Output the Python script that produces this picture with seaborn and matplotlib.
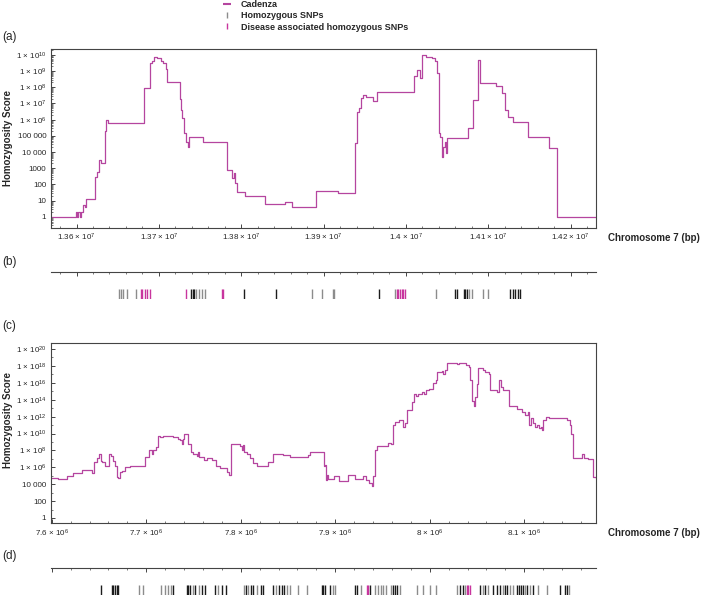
import numpy as np
import pandas as pd
import matplotlib
matplotlib.use('Agg')
import matplotlib.pyplot as plt
from matplotlib.lines import Line2D
from matplotlib.ticker import FixedLocator, FuncFormatter, MultipleLocator, NullFormatter
import seaborn as sns

# ---- panel (a): Cadenza homozygosity score, chr7 ~13.6-14.2 Mb (log10 score, step starts)
a_pos = [13568400, 13599200, 13600000, 13601600, 13604000, 13606000, 13607300, 13610100,
         13611300, 13622200, 13625100, 13627500, 13630300, 13634800, 13636400, 13638400,
         13681700, 13689000, 13691100, 13693900, 13697900, 13702000, 13705200, 13708500,
         13710100, 13725500, 13726700, 13728300, 13730300, 13732800, 13734800, 13736800,
         13753000, 13782200, 13789400, 13791100, 13792700, 13794300, 13795100, 13804400,
         13828700, 13853000, 13861100, 13890700, 13917800, 13938000, 13940900, 13943300,
         13945300, 13948100, 13951400, 13960300, 13964300, 14009700, 14013700, 14017000,
         14019400, 14023900, 14031600, 14034800, 14038000, 14039700, 14041300, 14043300,
         14044500, 14047000, 14048600, 14049400, 14075700, 14081700, 14087000, 14089800,
         14108900, 14116200, 14120200, 14123500, 14129500, 14148600, 14173700, 14183000,
         14185400, 14230800]
a_log = [0, 0.31, 0, 0.31, 0, 0.31, 0.72, 0.62,
         1.07, 2.47, 2.78, 3.5, 3.3, 5.3, 5.95, 5.77,
         7.94, 9.48, 9.6, 9.9, 9.8, 9.6, 9.48, 9.11,
         8.3, 7.3, 6.6, 6.1, 5.2, 4.6, 4.29, 4.9,
         4.64, 2.9, 2.4, 2.7, 2.06, 1.92, 1.55, 1.3,
         0.76, 0.89, 0.62, 1.6, 1.48, 4.54, 6.5, 6.7,
         7.32, 7.53, 7.43, 7.15, 7.73, 8.7, 9.07, 8.56,
         10.0, 9.9, 9.8, 9.6, 8.87, 5.15, 4.95, 3.7,
         4.33, 4.64, 3.92, 4.85, 5.46, 7.2, 9.7, 8.25,
         8.1, 7.63, 6.6, 6.19, 5.84, 4.95, 4.23, 0,
         0, 0]
a_pos, a_log = a_pos[:len(a_log)], a_log[:len(a_pos)]

# ---- panel (c): chr7 ~7.6-8.18 Mb
c_pos = [7598700, 7607000, 7615800, 7622900, 7631700, 7642300, 7644800, 7647600, 7650400,
         7651800, 7653200, 7656400, 7660300, 7663100, 7665200, 7667300, 7668700, 7670500,
         7672300, 7674000, 7677600, 7682800, 7698700, 7703300, 7705800, 7707500, 7710400,
         7712500, 7714600, 7717400, 7721600, 7728700, 7734000, 7735700, 7737500, 7738600,
         7740000, 7744600, 7747000, 7749800, 7753400, 7755100, 7756200, 7758700, 7761100,
         7764000, 7769200, 7773800, 7778100, 7782300, 7785100, 7787200, 7789700, 7799200,
         7801000, 7802700, 7803800, 7806300, 7809800, 7813300, 7816900, 7829200, 7834500,
         7845100, 7852100, 7862700, 7871500, 7873300, 7888100, 7889100, 7890200, 7891300,
         7892700, 7899000, 7904300, 7913800, 7920900, 7929000, 7932500, 7936100, 7939200,
         7940300, 7942400, 7944500, 7955500, 7958600, 7960700, 7963200, 7967800, 7971300,
         7973400, 7975600, 7981500, 7983300, 7985400, 7987900, 7991400, 7993900, 7996000,
         7999500, 8003100, 8006600, 8008000, 8012600, 8014300, 8016500, 8017900, 8029100,
         8031300, 8038300, 8041100, 8042600, 8044700, 8046500, 8048200, 8049600, 8051400,
         8056000, 8058800, 8062400, 8063700, 8071500, 8073600, 8075000, 8077100, 8083500,
         8092000, 8097200, 8100800, 8103600, 8105000, 8106800, 8108900, 8111700, 8113800,
         8115600, 8117700, 8118700, 8119800, 8123000, 8126500, 8144800, 8148400, 8149800,
         8151200, 8161100, 8163200, 8167700, 8173000, 8175900]
c_log = [4.78, 4.67, 5.0, 5.33, 5.65, 5.33, 6.67, 7.06, 7.57,
         6.78, 6.67, 6.16, 7.6, 7.3, 6.7, 6.1, 4.9, 4.78,
         5.45, 5.6, 6.0, 6.16, 7.2, 8.1, 7.57, 8.04, 8.43,
         9.7, 9.6, 9.76, 9.68, 9.6, 9.4, 9.2, 8.8, 9.4,
         10.0, 8.8, 7.8, 7.57, 7.33, 7.8, 7.25, 7.18, 6.86,
         7.06, 6.86, 6.1, 5.96, 5.9, 5.5, 5.1, 8.75, 8.5,
         8.04, 8.6, 7.84, 7.57, 7.06, 6.55, 6.16, 6.67, 7.57,
         7.45, 7.25, 7.18, 7.45, 7.8, 6.1, 6.3, 4.5, 5.1,
         4.6, 5.0, 4.43, 5.06, 4.63, 5.0, 4.55, 4.1, 3.84,
         4.94, 8.04, 8.5, 8.9, 8.8, 11.0, 11.4, 11.57, 10.8,
         11.3, 12.75, 13.7, 14.7, 14.4, 14.7, 14.9, 14.7, 15.1,
         15.3, 16.0, 16.3, 17.25, 17.45, 17.1, 17.5, 18.35, 18.2,
         18.35, 18.1, 17.9, 16.3, 13.9, 13.3, 14.3, 15.9, 17.8,
         17.5, 17.3, 17.1, 15.1, 14.95, 16.35, 15.5, 15.1, 13.3,
         12.95, 12.55, 12.15, 12.5, 11.0, 11.8, 11.2, 10.8, 11.0,
         10.6, 10.8, 10.4, 11.6, 12.0, 11.85, 11.57, 11.0, 10.0,
         7.06, 7.57, 7.06, 6.94, 4.9, 4.7]
c_pos, c_log = c_pos[:len(c_log)], c_log[:len(c_pos)]

# ---- SNP positions (b) and (d); kind: g = homozygous (grey), k = homozygous (dark), m = disease associated
b_snp = [13651000, 13653800, 13656600, 13661500, 13672800, 13677700, 13679300, 13683000,
         13685800, 13689000, 13732400, 13739600, 13741300, 13742900, 13744500, 13749000,
         13752200, 13755800, 13776900, 13778100, 13803200, 13842100, 13885400, 13897500,
         13910900, 13912900, 13967600, 13986600, 13988600, 13990600, 13992700, 13994700,
         13996700, 13999200, 14036400, 14059500, 14061500, 14070400, 14072000, 14074100,
         14076900, 14080100, 14093900, 14100000, 14126300, 14129600, 14132800, 14136000,
         14138400]
b_kind = ['g', 'g', 'g', 'g', 'g', 'm', 'm', 'm',
          'm', 'm', 'm', 'k', 'k', 'k', 'g', 'g',
          'g', 'g', 'm', 'm', 'k', 'k', 'g', 'g',
          'g', 'g', 'k', 'g', 'm', 'm', 'm', 'm',
          'm', 'm', 'g', 'k', 'k', 'k', 'k', 'k',
          'g', 'g', 'g', 'g', 'k', 'k', 'k', 'k',
          'k']

d_snp = [7651800, 7663500, 7665200, 7667000, 7668700, 7670500, 7692700, 7696200,
         7715300, 7719900, 7723400, 7725900, 7728000, 7742800, 7744600, 7746300,
         7749100, 7751600, 7755500, 7758700, 7762500, 7772800, 7775600, 7779800,
         7784400, 7803500, 7805600, 7808000, 7810500, 7813300, 7816900, 7821100,
         7823900, 7834500, 7837300, 7840800, 7843300, 7845800, 7848600, 7852100,
         7860900, 7869800, 7885600, 7887400, 7889200, 7894500, 7898000, 7900100,
         7920900, 7923400, 7926900, 7933200, 7935000, 7936800, 7942000, 7944900,
         7948100, 7950900, 7953700, 7958600, 7960700, 7963200, 7965700, 7968500,
         7986100, 7993200, 8000200, 8006600, 8029200, 8032000, 8034800, 8037300,
         8039000, 8040800, 8042600, 8053200, 8056700, 8058800, 8062000, 8067300,
         8070800, 8074300, 8077100, 8079600, 8082100, 8084900, 8087700, 8092000,
         8094100, 8096200, 8098300, 8100800, 8103200, 8106000, 8109600, 8114900,
         8123700, 8137800, 8143100, 8144800, 8147600]
d_kind = ['k', 'k', 'k', 'k', 'k', 'k', 'g', 'g',
          'g', 'g', 'g', 'g', 'k', 'k', 'k', 'k',
          'g', 'k', 'g', 'k', 'k', 'k', 'g', 'k',
          'k', 'g', 'k', 'g', 'k', 'k', 'g', 'k',
          'k', 'k', 'g', 'k', 'k', 'k', 'g', 'g',
          'g', 'g', 'k', 'k', 'k', 'k', 'g', 'g',
          'k', 'k', 'g', 'm', 'm', 'k', 'g', 'g',
          'g', 'g', 'g', 'g', 'k', 'k', 'k', 'g',
          'g', 'g', 'g', 'g', 'g', 'k', 'k', 'g',
          'm', 'm', 'm', 'k', 'g', 'k', 'g', 'k',
          'k', 'k', 'g', 'k', 'k', 'g', 'g', 'k',
          'k', 'k', 'k', 'g', 'k', 'g', 'k', 'g',
          'g', 'k', 'k', 'k', 'g']

a_xticks = [13600000, 13700000, 13800000, 13900000, 14000000, 14100000, 14200000]
c_xticks = [7600000, 7700000, 7800000, 7900000, 8000000, 8100000]
a_xlim = (13568400, 14230800)
c_xlim = (7598700, 8175900)

CURVE = '#b5459f'
SNP_COLORS = {'g': '#8c8c8c', 'k': '#1c1c1c', 'm': '#c8359e'}
FRAME = '#444444'

sns.set_style('white')
plt.rcParams['font.family'] = ['Liberation Sans', 'DejaVu Sans']
plt.rcParams['mathtext.fontset'] = 'custom'
plt.rcParams['mathtext.rm'] = 'Liberation Sans'
plt.rcParams['mathtext.it'] = 'Liberation Sans:italic'
plt.rcParams['mathtext.bf'] = 'Liberation Sans:bold'

W, H = 709, 595
fig = plt.figure(figsize=(W / 100, H / 100), dpi=100)


def box(l, t, r, b):
    return [l / W, 1 - b / H, (r - l) / W, (b - t) / H]


def y_label_fmt(v, pos):
    e = int(round(np.log10(v)))
    if e < 4:
        return str(10 ** e)
    if e < 6:
        return f"{10 ** e:,}".replace(',', ' ')
    return "1 × 10$^{%d}$" % e


def x_label_fmt(v, pos):
    e = int(np.floor(np.log10(v)))
    m = v / 10 ** e
    return "%s × 10$^{%d}$" % (f"{m:g}", e)


def score_panel(ax, pos, logs, xlim, xticks, ylim, ymajor, yminor, ylab_y):
    ax.set_yscale('log')
    df = pd.DataFrame({'pos': pos, 'score': 10 ** np.array(logs)})
    sns.lineplot(data=df, x='pos', y='score', ax=ax, color=CURVE, lw=0.9,
                 drawstyle='steps-post', estimator=None, sort=False)
    ax.set_xlim(*xlim)
    ax.set_ylim(*ylim)
    ax.xaxis.set_major_locator(FixedLocator(xticks))
    ax.xaxis.set_minor_locator(MultipleLocator(20000))
    ax.xaxis.set_major_formatter(FuncFormatter(x_label_fmt))
    ax.yaxis.set_major_locator(FixedLocator(ymajor))
    ax.yaxis.set_minor_locator(FixedLocator(yminor))
    ax.yaxis.set_major_formatter(FuncFormatter(y_label_fmt))
    ax.yaxis.set_minor_formatter(NullFormatter())
    ax.tick_params(which='major', direction='in', length=3, width=0.7, color=FRAME,
                   labelsize=5.8, pad=3, bottom=True, left=True)
    ax.tick_params(which='minor', direction='in', length=1.6, width=0.5, color=FRAME,
                   bottom=True, left=True)
    for s in ax.spines.values():
        s.set_color(FRAME)
        s.set_linewidth(0.8)
    ax.set_xlabel('')
    ax.set_ylabel('Homozygosity Score', fontsize=7, fontweight='bold')
    ax.yaxis.set_label_coords(-0.068, ylab_y)


def snp_panel(ax, pos, kind, xlim, xticks):
    df = pd.DataFrame({'pos': pos, 'kind': kind})
    sns.rugplot(data=df, x='pos', hue='kind', palette=SNP_COLORS, height=0.36,
                lw=0.8, ax=ax, legend=False, expand_margins=False)
    ax.set_xlim(*xlim)
    ax.set_ylim(0, 1)
    for k, s in ax.spines.items():
        s.set_visible(k == 'top')
    ax.spines['top'].set_color(FRAME)
    ax.spines['top'].set_linewidth(0.8)
    ax.xaxis.set_major_locator(FixedLocator(xticks))
    ax.xaxis.set_minor_locator(MultipleLocator(20000))
    ax.tick_params(axis='x', which='major', top=True, bottom=False, direction='in',
                   length=3, width=0.7, color=FRAME, labeltop=False, labelbottom=False)
    ax.tick_params(axis='x', which='minor', top=True, bottom=False, direction='in',
                   length=1.6, width=0.5, color=FRAME)
    ax.set_yticks([])
    ax.set_xlabel('')
    ax.set_ylabel('')


ax_a = fig.add_axes(box(50.5, 49, 596, 228))
ax_b = fig.add_axes(box(50.5, 272, 596, 298.5))
ax_c = fig.add_axes(box(50.5, 342.7, 596, 523.3))
ax_d = fig.add_axes(box(50.5, 567.7, 596, 594.5))

score_panel(ax_a, a_pos, a_log, a_xlim, a_xticks, (10 ** -0.7, 10 ** 10.37),
            [10.0 ** e for e in range(0, 11)],
            [m * 10.0 ** e for e in range(-1, 11) for m in range(2, 10)], 0.5)
score_panel(ax_c, c_pos, c_log, c_xlim, c_xticks, (10 ** -0.63, 10 ** 20.75),
            [10.0 ** e for e in range(0, 21, 2)],
            [10.0 ** e for e in range(1, 21, 2)], 0.57)
snp_panel(ax_b, b_snp, b_kind, a_xlim, a_xticks)
snp_panel(ax_d, d_snp, d_kind, c_xlim, c_xticks)

# axis captions and panel letters
fig.text(608 / W, 1 - 238 / H, 'Chromosome 7 (bp)', fontsize=7, fontweight='bold',
         ha='left', va='center')
fig.text(608 / W, 1 - 533 / H, 'Chromosome 7 (bp)', fontsize=7, fontweight='bold',
         ha='left', va='center')
for lab, y in [('(a)', 37), ('(b)', 262), ('(c)', 326), ('(d)', 556)]:
    fig.text(2 / W, 1 - y / H, lab, fontsize=8.5, ha='left', va='center')

handles = [Line2D([], [], color=CURVE, marker='_', ls='None', markersize=6, mew=1.5),
           Line2D([], [], color=SNP_COLORS['g'], marker='|', ls='None', markersize=5, mew=1),
           Line2D([], [], color=SNP_COLORS['m'], marker='|', ls='None', markersize=5, mew=1)]
fig.legend(handles, ['Cadenza', 'Homozygous SNPs', 'Disease associated homozygous SNPs'],
           loc='upper left', bbox_to_anchor=(223 / W, 1 - 0 / H), frameon=False,
           prop={'size': 6.5, 'weight': 'bold'}, handlelength=0.8, handletextpad=1.2,
           labelspacing=0.25, borderaxespad=0, borderpad=0)

fig.savefig('out.png', dpi=100)
